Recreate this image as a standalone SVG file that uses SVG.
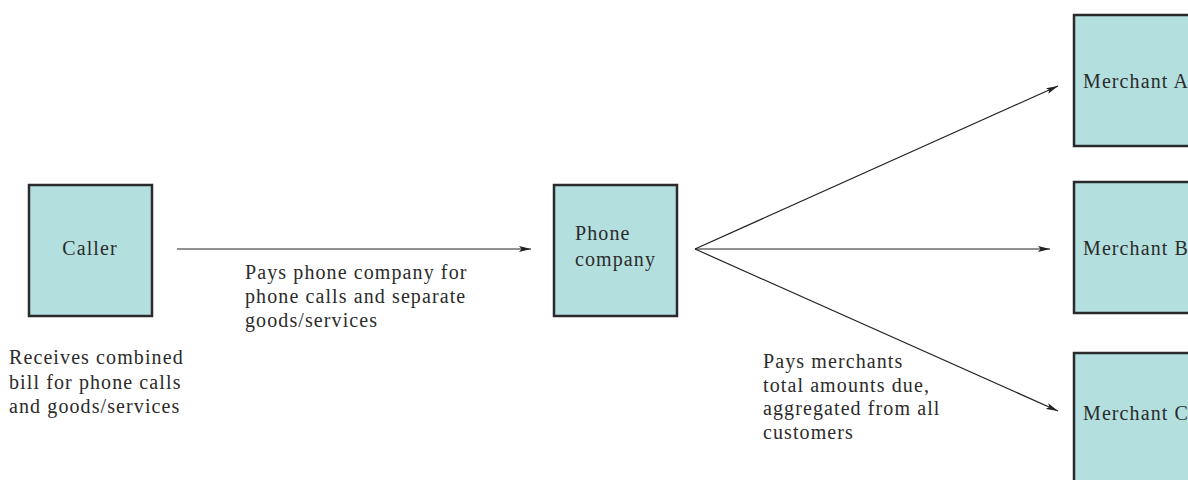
<svg xmlns="http://www.w3.org/2000/svg" width="1188" height="480" viewBox="0 0 1188 480">
  <style>
    .box { fill: #b3e0df; stroke: #2a2a2a; stroke-width: 2.5; }
    .lbl { font-family: "Liberation Serif", "Times New Roman", serif; font-size: 20px; letter-spacing: 1.1px; fill: #2b2b2b; }
    .edge { stroke: #222; stroke-width: 1.2; fill: none; marker-end: url(#arrow); }
  </style>
  <defs>
    <marker id="arrow" viewBox="0 0 12 6" refX="12" refY="3" markerWidth="12" markerHeight="6" markerUnits="userSpaceOnUse" orient="auto">
      <path d="M0,0 L12,3 L0,6 L2.5,3 Z" fill="#222"/>
    </marker>
  </defs>
  <rect width="1188" height="480" fill="#fff"/>

  <g id="connectors">
    <line class="edge" x1="177" y1="249" x2="531" y2="249"/>
    <line class="edge" x1="695" y1="249" x2="1058" y2="86"/>
    <line class="edge" x1="695" y1="249" x2="1050" y2="249"/>
    <line class="edge" x1="695" y1="249" x2="1058" y2="411"/>
  </g>

  <g id="caller">
    <rect class="box" x="29" y="185" width="123" height="131"/>
    <text class="lbl" x="90" y="255" text-anchor="middle">Caller</text>
  </g>

  <g id="phone-company">
    <rect class="box" x="554" y="185" width="123" height="131"/>
    <text class="lbl" x="575" y="240">Phone</text>
    <text class="lbl" x="575" y="266">company</text>
  </g>

  <g id="merchant-a">
    <rect class="box" x="1074" y="15" width="140" height="131"/>
    <text class="lbl" x="1083" y="88">Merchant A</text>
  </g>

  <g id="merchant-b">
    <rect class="box" x="1074" y="182" width="140" height="131"/>
    <text class="lbl" x="1083" y="255">Merchant B</text>
  </g>

  <g id="merchant-c">
    <rect class="box" x="1074" y="353" width="140" height="140"/>
    <text class="lbl" x="1083" y="420">Merchant C</text>
  </g>

  <g id="note-payment">
    <text class="lbl" x="245" y="279">Pays phone company for</text>
    <text class="lbl" x="245" y="303">phone calls and separate</text>
    <text class="lbl" x="245" y="327">goods/services</text>
  </g>

  <g id="note-bill">
    <text class="lbl" x="9" y="364">Receives combined</text>
    <text class="lbl" x="9" y="389">bill for phone calls</text>
    <text class="lbl" x="9" y="413">and goods/services</text>
  </g>

  <g id="note-merchants">
    <text class="lbl" x="763" y="368">Pays merchants</text>
    <text class="lbl" x="763" y="392">total amounts due,</text>
    <text class="lbl" x="763" y="415">aggregated from all</text>
    <text class="lbl" x="763" y="439">customers</text>
  </g>
</svg>
